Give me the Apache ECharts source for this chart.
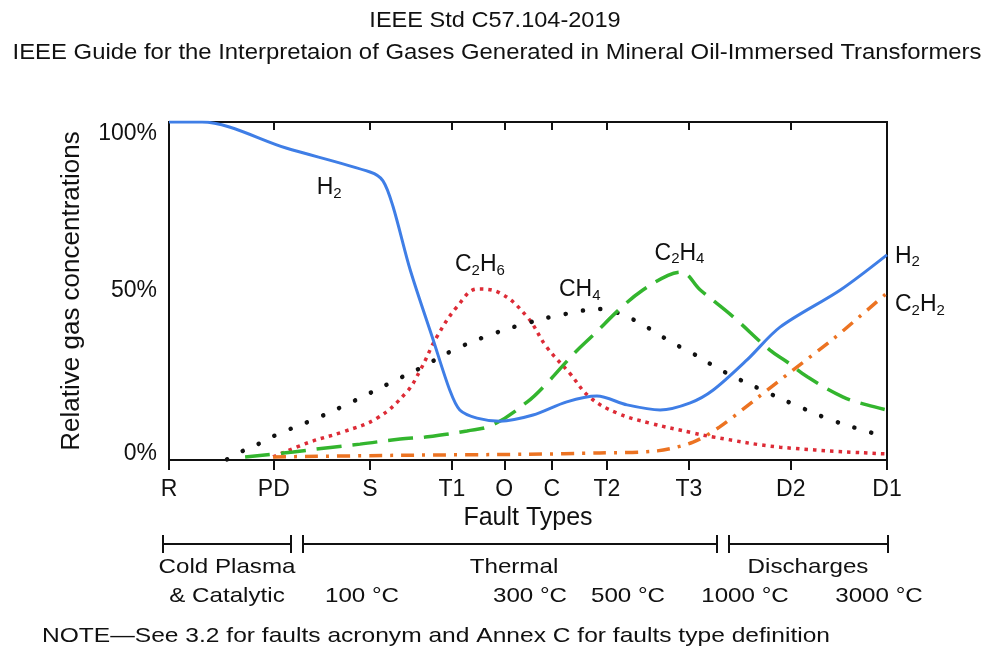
<!DOCTYPE html>
<html>
<head>
<meta charset="utf-8">
<script src="https://cdn.jsdelivr.net/npm/echarts@6/dist/echarts.min.js"></script>
<style>
  html, body { margin: 0; padding: 0; background: #fff; }
  #main { width: 990px; height: 649px; }
</style>
</head>
<body>
<div id="main"></div>
<script>
  // fault types along the x axis (position in % of axis width)
  var faultNames = ['R', 'PD', 'S', 'T1', 'O', 'C', 'T2', 'T3', 'D2', 'D1'];
  var faultPos = [0, 14.6, 28.0, 39.4, 46.7, 53.3, 61.0, 72.4, 86.6, 100];
  var yTicks = [0, 50, 100];

  // relative gas concentrations [position, %]
  var h2Data = [[0, 100], [4.6, 100], [16.3, 92.3], [28.0, 85.2], [29.8, 82.6], [31.2, 75], [33.6, 56.2],
    [36.8, 35.5], [39.1, 20.7], [40.5, 14.8], [42.9, 12.4], [46.1, 11.5], [50.7, 13.3], [55.4, 17.2],
    [59.6, 18.9], [63.8, 16.3], [68.4, 14.8], [72.6, 16.9], [75.8, 20.7], [80.5, 29.6], [85.1, 39.3],
    [93.5, 50.3], [100, 60.7]];
  var c2h6Data = [[14.5, 0.9], [19.6, 5.3], [24.2, 8.3], [29.0, 12.4], [33.1, 20.1], [35.0, 26.6],
    [37.3, 36.4], [40.1, 45.3], [43.0, 50.6], [46.1, 49.4], [49.9, 42.3], [52.6, 33.4], [55.8, 25.7],
    [58.6, 18.6], [62.4, 13.9], [67.0, 10.9], [73.0, 8.0], [75.8, 6.8], [85.1, 3.8], [100, 1.8]];
  var ch4Data = [[8.1, 0.2], [10.3, 2.7], [12.7, 5.0], [15.2, 7.7], [20.3, 12.1], [25.2, 16.9], [32.5, 24.6],
    [35.0, 27.2], [39.6, 32.5], [44.7, 37.0], [49.9, 40.5], [55.2, 43.2], [60.4, 44.7], [63.2, 42.9],
    [65.6, 40.5], [70.2, 34.6], [72.8, 31.7], [77.4, 26.0], [82.3, 21.0], [87.2, 16.3], [92.3, 11.8],
    [97.5, 8.3], [100, 6.8]];
  var c2h4Data = [[10.6, 0.9], [17.3, 2.4], [22.8, 3.8], [26.6, 4.7], [32.2, 6.2], [35.7, 6.8], [41.5, 8.6],
    [45.1, 10.4], [49.9, 17.2], [52.4, 22.2], [56.5, 31.7], [59.1, 37.0], [63.1, 45.3], [66.0, 50.3],
    [69.5, 54.6], [71.3, 55.6], [74.0, 50.3], [78.6, 42.3], [83.7, 32.5], [86.1, 29.0], [88.9, 24.6],
    [93.9, 18.6], [97.2, 16.3], [100, 14.8]];
  var c2h2Data = [[14.5, 0.9], [32.2, 1.4], [50, 1.7], [60.0, 2.1], [68.0, 2.7], [73.0, 5.3], [76.7, 9.8],
    [81.9, 18.3], [86.9, 26.6], [92.5, 35.8], [97.6, 45.0], [100, 49.4]];

  var myChart = echarts.init(document.getElementById('main'));
  var font = 'Liberation Sans, Arial, sans-serif';

  var chemRich = {
    n: { fontSize: 23, color: '#111', fontFamily: font },
    s: { fontSize: 15, color: '#111', fontFamily: font, padding: [11, 0, 0, 0] }
  };

  function gasLabel(txt, u, v) {
    return {
      data: [{ coord: [u, v] }],
      symbol: 'circle',
      symbolSize: 1,
      itemStyle: { color: 'rgba(0,0,0,0)' },
      silent: true,
      label: { show: true, formatter: txt, rich: chemRich, position: 'inside' }
    };
  }

  // plain text drawn a bit wider, like the original figure
  function txt(s, x, y, size, align, sx) {
    return {
      type: 'text', x: x, y: y, scaleX: sx || 1.15,
      style: { text: s, font: size + 'px ' + font, fill: '#111', textAlign: align || 'center', textVerticalAlign: 'middle' }
    };
  }
  function seg(x1, y1, x2, y2) {
    return { type: 'line', shape: { x1: x1, y1: y1, x2: x2, y2: y2 }, style: { stroke: '#111', lineWidth: 2 } };
  }

  var option = {
    animation: false,
    grid: { left: 169, right: 103, top: 122, bottom: 189, show: true, borderColor: '#111', borderWidth: 2 },
    xAxis: [{
      type: 'value',
      min: 0,
      max: 100,
      name: 'Fault Types',
      nameLocation: 'middle',
      nameGap: 46,
      nameTextStyle: { fontFamily: font, fontSize: 25, color: '#111' },
      axisLine: { show: true, lineStyle: { color: '#111', width: 2 } },
      axisTick: { show: true, customValues: faultPos, length: 10, lineStyle: { color: '#111', width: 2 } },
      axisLabel: {
        customValues: faultPos,
        margin: 18,
        fontFamily: font, fontSize: 23, color: '#111',
        formatter: function (val) {
          var i = faultPos.indexOf(val);
          return i >= 0 ? faultNames[i] : '';
        }
      },
      splitLine: { show: false }
    }, {
      type: 'value',
      position: 'top',
      min: 0,
      max: 100,
      axisLine: { show: true, lineStyle: { color: '#111', width: 2 } },
      axisTick: { show: true, inside: true, customValues: faultPos, length: 8, lineStyle: { color: '#111', width: 2 } },
      axisLabel: { show: false },
      splitLine: { show: false }
    }],
    yAxis: {
      type: 'value',
      min: 0,
      max: 100,
      interval: 50,
      name: 'Relative gas concentrations',
      nameLocation: 'middle',
      nameGap: 84,
      nameTextStyle: { fontFamily: font, fontSize: 26, color: '#111' },
      axisLine: { show: true, lineStyle: { color: '#111', width: 2 } },
      axisTick: { show: false },
      axisLabel: {
        margin: 12,
        fontFamily: font, fontSize: 23, color: '#111',
        verticalAlignMaxLabel: 'top',
        verticalAlignMinLabel: 'bottom',
        formatter: function (v) {
          if (v === 0) return '{lo|0%}';
          if (v === 100) return '{hi|100%}';
          return yTicks.indexOf(v) >= 0 ? v + '%' : '';
        },
        rich: {
          lo: { fontFamily: font, fontSize: 23, color: '#111', lineHeight: 12 },
          hi: { fontFamily: font, fontSize: 23, color: '#111', lineHeight: 24 }
        }
      },
      splitLine: { show: false }
    },
    series: [{
      name: 'H2',
      type: 'line',
      data: h2Data,
      showSymbol: false,
      smooth: 0.3,
      lineStyle: { color: '#3f7ee6', width: 3 },
      endLabel: { show: true, formatter: '{n|H}{s|2}', rich: chemRich, distance: 8, offset: [0, 2] },
      markPoint: gasLabel('{n|H}{s|2}', 22.3, 80.5),
      z: 5
    }, {
      name: 'C2H6',
      type: 'line',
      data: c2h6Data,
      showSymbol: false,
      smooth: 0.4,
      lineStyle: { color: '#dd2b36', width: 3.5, type: [3.5, 5] },
      markPoint: gasLabel('{n|C}{s|2}{n|H}{s|6}', 43.3, 57.7)
    }, {
      name: 'CH4',
      type: 'line',
      data: ch4Data,
      showSymbol: false,
      smooth: 0.4,
      lineStyle: { color: '#111', width: 4.5, type: [0.1, 17.5], cap: 'round' },
      markPoint: gasLabel('{n|CH}{s|4}', 57.2, 50.3)
    }, {
      name: 'C2H4',
      type: 'line',
      data: c2h4Data,
      showSymbol: false,
      smooth: 0.4,
      lineStyle: { color: '#33b52e', width: 3.5, type: [25, 11] },
      markPoint: gasLabel('{n|C}{s|2}{n|H}{s|4}', 71.1, 61.0)
    }, {
      name: 'C2H2',
      type: 'line',
      data: c2h2Data,
      showSymbol: false,
      smooth: 0.3,
      lineStyle: { color: '#ec7322', width: 3.5, type: [13, 8, 3, 8] },
      endLabel: { show: true, formatter: '{n|C}{s|2}{n|H}{s|2}', rich: chemRich, distance: 8, offset: [0, 12] }
    }],
    graphic: [
      // title
      txt('IEEE Std C57.104-2019', 495, 21, 22, 'center', 1.07),
      txt('IEEE Guide for the Interpretaion of Gases Generated in Mineral Oil-Immersed Transformers', 497, 53, 22, 'center', 1.085),
      // fault groups brackets
      seg(163, 544, 291, 544), seg(163, 535, 163, 553), seg(291, 535, 291, 553),
      seg(303, 544, 717, 544), seg(303, 535, 303, 553), seg(717, 535, 717, 553),
      seg(729, 544, 888, 544), seg(729, 535, 729, 553), seg(888, 535, 888, 553),
      txt('Cold Plasma', 227, 567, 21),
      txt('& Catalytic', 227, 596, 21),
      txt('Thermal', 514, 567, 21),
      txt('Discharges', 808, 567, 21),
      txt('100 °C', 362, 596, 21),
      txt('300 °C', 530, 596, 21),
      txt('500 °C', 628, 596, 21),
      txt('1000 °C', 745, 596, 21),
      txt('3000 °C', 879, 596, 21),
      txt('NOTE\u2014See 3.2 for faults acronym and Annex C for faults type definition', 42, 636, 21, 'left', 1.17)
    ]
  };

  myChart.setOption(option);
  window.addEventListener('resize', function () { myChart.resize() });
</script>
</body>
</html>
